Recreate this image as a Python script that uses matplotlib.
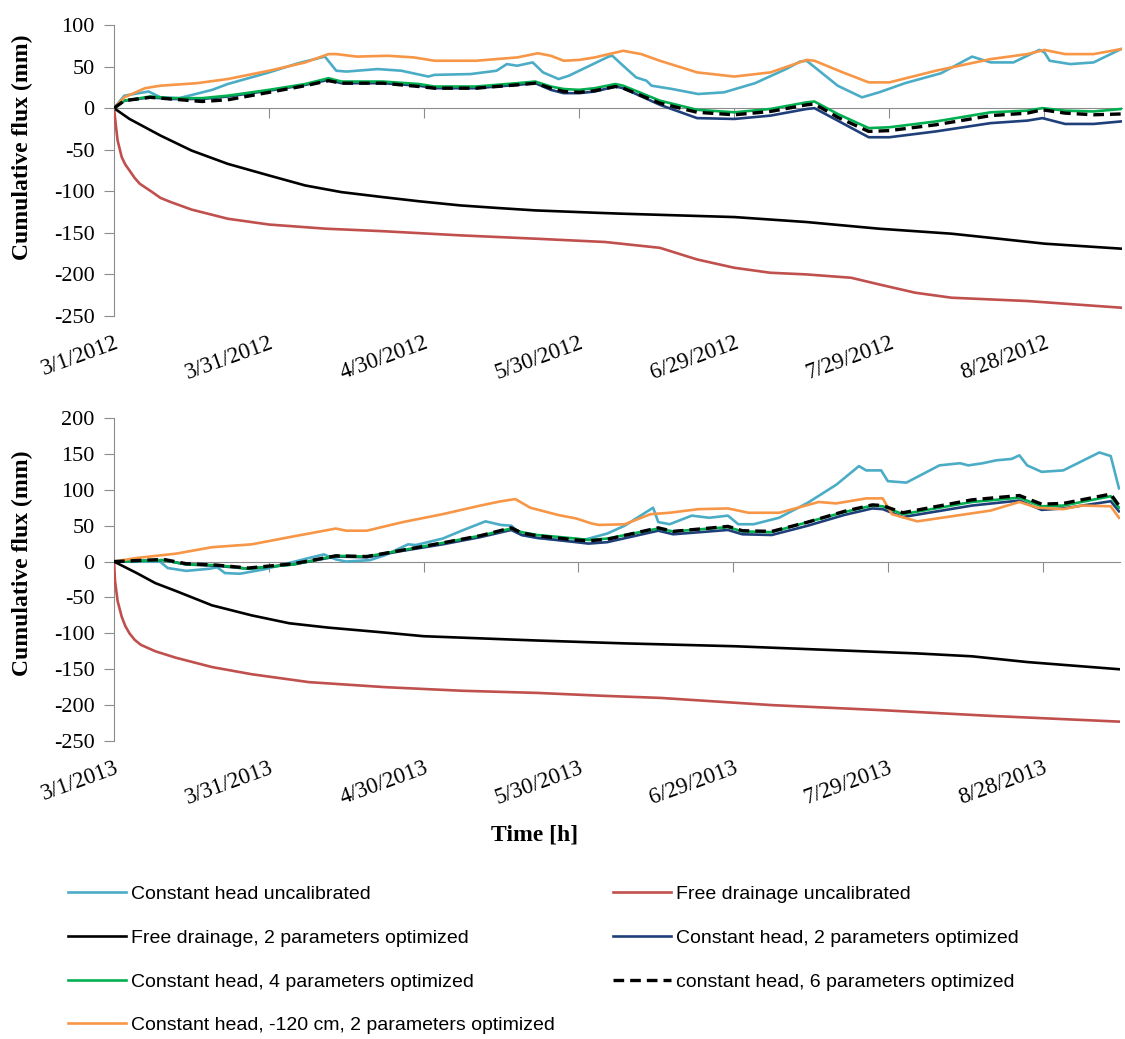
import datetime as dt

import matplotlib
matplotlib.use('Agg')
import matplotlib.dates as mdates
import matplotlib.pyplot as plt
import numpy as np
from matplotlib import font_manager

plt.rcParams['axes.unicode_minus'] = False

# ---- 2012 season (day offset from 1 March, cumulative flux in mm) ----
ch_uncal_12_d = [0, 2, 6.7, 9, 12.6, 19, 22, 30, 35.6, 40.8, 43, 45, 51, 55.6, 60.8, 62, 69, 74, 76, 78,
                 81, 83, 86, 88, 90, 95.7, 96.4, 98.5, 101, 103, 104, 108, 113, 118, 124, 130, 132.7, 134,
                 137, 140, 142, 144.7, 148, 153, 160, 166, 169.6, 174, 179, 180, 181, 185, 189.5, 194.8]
ch_uncal_12_v = [0, 15, 20, 13, 12, 22, 29, 43, 54, 62, 45, 44, 47, 45, 38, 40, 41, 45, 53, 51,
                 55, 43, 35, 39, 45, 62, 63, 51, 37, 33, 27, 23, 17, 19, 30, 47, 56, 57,
                 42, 27, 21, 13, 19, 30, 42, 62, 55, 55, 70, 67, 57, 53, 55, 71]

fd_uncal_12_d = [0, 0.4, 0.7, 1.5, 2.2, 3, 4, 5, 7.4, 9, 11, 15, 22, 30, 41, 52, 67, 81.5, 95, 105.6,
                 112.8, 120, 127, 134, 142.6, 148, 155, 162, 176.7, 194.8]
fd_uncal_12_v = [0, -23, -39, -59, -68, -75, -84, -91, -101, -108, -113, -122, -133, -140, -145, -148,
                 -153, -157, -161, -168, -182, -192, -198, -200, -204, -212, -222, -228, -232, -240]

fd_2p_12_d = [0, 3, 9, 15, 22, 30, 37, 44, 52, 59, 67, 74, 81.5, 94, 98.5, 120, 134, 148, 162, 169.6, 180, 194.8]
fd_2p_12_v = [0, -13, -33, -51, -67, -81, -93, -101, -107, -112, -117, -120, -123, -126, -127, -131, -137,
              -145, -151, -156, -163, -169]

ch_opt_12_d = [0, 2, 7, 11, 17, 22, 30, 37, 41.5, 44, 52, 59, 62, 70, 78, 81.5, 84.5, 87, 90, 93, 97,
               98.5, 105.6, 112.8, 120, 127, 134, 135.5, 140, 146, 150, 159, 169.6, 176.7, 179.6, 184,
               189.5, 194.8]
ch_2p_12_v = [0, 9, 13, 11, 11, 14, 21, 28, 34, 30, 30, 27, 24, 24, 28, 30, 22, 18, 18, 20, 26,
              24, 4, -12, -13, -9, -1, 0, -15, -35, -35, -28, -18, -15, -12, -19, -19, -16]
ch_4p_12_v = [0, 9, 14, 12, 12, 15, 22, 29, 36, 32, 32, 29, 26, 26, 30, 32, 26, 23, 22, 24, 29,
              27, 9, -2, -5, -1, 7, 8, -7, -24, -23, -16, -5, -3, 0, -3, -4, -1]
ch_6p_12_v = [0, 9, 13, 11, 8, 10, 19, 27, 33, 30, 30, 26, 24, 24, 28, 30, 24, 20, 19, 21, 26,
              24, 6, -5, -8, -4, 4, 5, -11, -28, -27, -20, -9, -6, -2, -6, -8, -7]

ch120_12_d = [0, 2, 6, 9, 16, 22, 30, 37, 41.5, 43, 47, 53, 58, 62, 70, 78, 82, 84.5, 87, 90, 93, 98.5,
              102, 105.6, 112.8, 120, 127, 134, 135.5, 141, 146, 150, 159, 169.6, 176.7, 180, 184, 189.5, 194.8]
ch120_12_v = [0, 13, 24, 27, 30, 35, 45, 55, 65, 65, 62, 63, 61, 57, 57, 61, 66, 63, 57, 58, 61, 69,
              65, 57, 43, 38, 43, 58, 57, 43, 31, 31, 45, 59, 65, 70, 65, 65, 71]

# ---- 2013 season ----
ch_uncal_13_d = [0, 4.4, 8.9, 10.4, 14, 18.5, 20, 21.5, 24.4, 29, 34, 37.8, 40.7, 43, 45, 49.6, 52.6, 57,
                 58.5, 63.7, 67.4, 72, 75, 77, 79, 82, 89.6, 92, 95.6, 99, 104.5, 105.5, 107.7, 112, 115.4,
                 119, 121, 124, 128.9, 134.5, 140, 144.4, 145.8, 148.7, 150, 153.6, 160, 164, 165.6, 168.4,
                 171, 174, 175.5, 177, 179.8, 184, 191, 193.2, 194.8]
ch_uncal_13_v = [0, 0, 0, -9, -13, -10, -8, -16, -17, -11, -2, 5, 10, 3, 0, 2, 9, 24,
                 23, 32, 43, 56, 51, 50, 37, 33, 28, 32, 39, 50, 75, 55, 52, 64, 61,
                 64, 52, 52, 61, 82, 107, 133, 127, 127, 112, 110, 134, 137, 134, 137,
                 141, 143, 148, 134, 125, 127, 152, 147, 102]

fd_uncal_13_d = [0, 0.2, 0.7, 1.5, 2.2, 3, 4, 5.2, 8, 12, 19, 26.7, 37.8, 52.6, 67.4, 82, 94.7, 106, 127.5,
                 148.7, 169.9, 194.8]
fd_uncal_13_v = [0, -27, -55, -77, -90, -100, -109, -116, -125, -134, -147, -157, -168, -175, -180, -183,
                 -187, -190, -200, -207, -215, -223]

fd_2p_13_d = [0, 4.4, 8, 12, 19, 26.7, 34, 41.5, 52.6, 60, 71, 82, 94.7, 99, 120.4, 141.6, 155.7, 166.3,
              177, 194.8]
fd_2p_13_v = [0, -16, -30, -41, -61, -75, -86, -92, -99, -104, -107, -110, -113, -114, -118, -124, -128,
              -132, -140, -150]

ch_opt_13_d = [0, 9.6, 14, 20, 26, 34.8, 43, 49, 56, 63.7, 71, 77, 79, 82, 89.6, 92, 95.6, 105.5, 108.4,
               119, 121.8, 127.5, 134.5, 141.6, 147, 149, 152.9, 166.3, 175.5, 179.8, 184, 193.2, 194.8]
ch_2p_13_v = [0, 2, -4, -6, -10, -4, 7, 6, 15, 24, 34, 44, 37, 33, 27, 25, 27, 43, 38,
              44, 38, 37, 50, 65, 74, 73, 62, 78, 85, 72, 74, 84, 70]
ch_4p_13_v = [0, 2, -4, -5, -10, -4, 8, 7, 16, 26, 36, 46, 41, 37, 32, 30, 32, 46, 42,
              48, 42, 41, 55, 69, 78, 77, 66, 83, 89, 77, 78, 91, 75]
ch_6p_13_v = [0, 3, -3, -5, -9, -3, 8, 7, 16, 26, 36, 47, 40, 36, 30, 29, 31, 47, 42,
              49, 43, 42, 55, 70, 79, 78, 68, 86, 92, 80, 81, 94, 78]

ch120_13_d = [0, 4.4, 12, 19, 26.7, 34, 43, 45, 49, 56, 63.7, 71, 75, 77.8, 80.7, 86, 89.6, 92.6, 94, 99,
              104, 107.7, 113.3, 119, 123, 129, 136.6, 140, 145.8, 149, 150.8, 155.7, 169.9, 175.5, 179,
              184, 187.5, 193.2, 194.8]
ch120_13_v = [0, 5, 11, 20, 24, 34, 46, 43, 43, 55, 66, 78, 84, 87, 75, 65, 60, 53, 51, 52,
              66, 68, 73, 74, 68, 68, 83, 81, 88, 88, 66, 56, 71, 83, 75,
              73, 78, 77, 61]

labels = ['Constant head uncalibrated', 'Free drainage uncalibrated',
          'Free drainage, 2 parameters optimized', 'Constant head, 2 parameters optimized',
          'Constant head, 4 parameters optimized', 'constant head, 6 parameters optimized',
          'Constant head, -120 cm, 2 parameters optimized']
colors = ['#4bacc6', '#c0504d', '#000000', '#1f3f7a', '#00b050', '#000000', '#f79646']

series_2012 = [(ch_uncal_12_d, ch_uncal_12_v), (fd_uncal_12_d, fd_uncal_12_v), (fd_2p_12_d, fd_2p_12_v),
               (ch_opt_12_d, ch_2p_12_v), (ch_opt_12_d, ch_4p_12_v), (ch_opt_12_d, ch_6p_12_v),
               (ch120_12_d, ch120_12_v)]
series_2013 = [(ch_uncal_13_d, ch_uncal_13_v), (fd_uncal_13_d, fd_uncal_13_v), (fd_2p_13_d, fd_2p_13_v),
               (ch_opt_13_d, ch_2p_13_v), (ch_opt_13_d, ch_4p_13_v), (ch_opt_13_d, ch_6p_13_v),
               (ch120_13_d, ch120_13_v)]

SERIF = 'Liberation Serif'
GREY = '#8c8c8c'
installed = {f.name for f in font_manager.fontManager.ttflist}
LEGEND_FONT = 'Liberation Sans Narrow' if 'Liberation Sans Narrow' in installed else 'Liberation Sans'

W, H = 1125, 1039
fig = plt.figure(figsize=(W / 100, H / 100), dpi=100)


def draw_panel(rect, year, series, ymin, ymax, label_y):
    ax = fig.add_axes(rect)
    start = mdates.date2num(dt.datetime(year, 3, 1))
    lines = []
    for (d, v), lab, col in zip(series, labels, colors):
        x = start + np.asarray(d, dtype=float)
        if lab.startswith('constant head, 6'):
            ln, = ax.plot(x, v, color=col, lw=2.4, dashes=(3.2, 1.8), label=lab, zorder=4)
        else:
            ln, = ax.plot(x, v, color=col, lw=1.9, label=lab, zorder=3)
        lines.append(ln)

    ticks = start + np.arange(0, 181, 30)
    ax.set_xlim(start, start + 195)
    ax.set_ylim(ymin, ymax)
    ax.set_yticks(np.arange(ymin, ymax + 1, 50))
    ax.set_xticks(ticks)
    ax.set_xticklabels([f'{d.month}/{d.day}/{d.year}' for d in mdates.num2date(ticks)],
                       rotation=20, ha='right', va='top', rotation_mode='anchor')

    for s in ('top', 'right', 'bottom'):
        ax.spines[s].set_visible(False)
    ax.spines['left'].set_color(GREY)
    ax.tick_params(axis='x', length=0, pad=12, labelsize=16.5)
    ax.tick_params(axis='y', length=7, color=GREY, direction='out', labelsize=16, pad=7)
    for t in ax.get_xticklabels() + ax.get_yticklabels():
        t.set_fontfamily(SERIF)

    # zero line carries the tick marks, labels stay at the bottom
    sec = ax.secondary_xaxis((0 - ymin) / (ymax - ymin))
    sec.set_alignment('bottom')
    sec.set_xticks(ticks)
    sec.tick_params(direction='out', length=7, color=GREY, labelbottom=False)
    sec.spines['bottom'].set_color(GREY)

    ax.set_ylabel('Cumulative flux (mm)', family=SERIF, fontweight='bold', fontsize=17)
    ax.yaxis.set_label_coords(-0.080, label_y)
    return lines


handles = draw_panel([114 / W, 1 - 316 / H, 1008 / W, 291 / H], 2012, series_2012, -250, 100, 0.58)
draw_panel([114 / W, 1 - 741 / H, 1006 / W, 323 / H], 2013, series_2013, -250, 200, 0.55)

fig.text(535 / W, 1 - 835 / H, 'Time [h]', family=SERIF, fontweight='bold', fontsize=17,
         ha='center', va='center')

# row-major order in the picture -> column-major for matplotlib
order = [0, 2, 4, 6, 1, 3, 5]
fig.legend([handles[i] for i in order], [labels[i] for i in order],
           loc='upper left', bbox_to_anchor=(56 / W, 1 - 874 / H), ncol=2, frameon=False,
           handlelength=3.0, handletextpad=0.25, labelspacing=1.34, columnspacing=3.0,
           borderaxespad=0.2, prop={'family': LEGEND_FONT, 'size': 14})

fig.savefig('out.png', dpi=100)
